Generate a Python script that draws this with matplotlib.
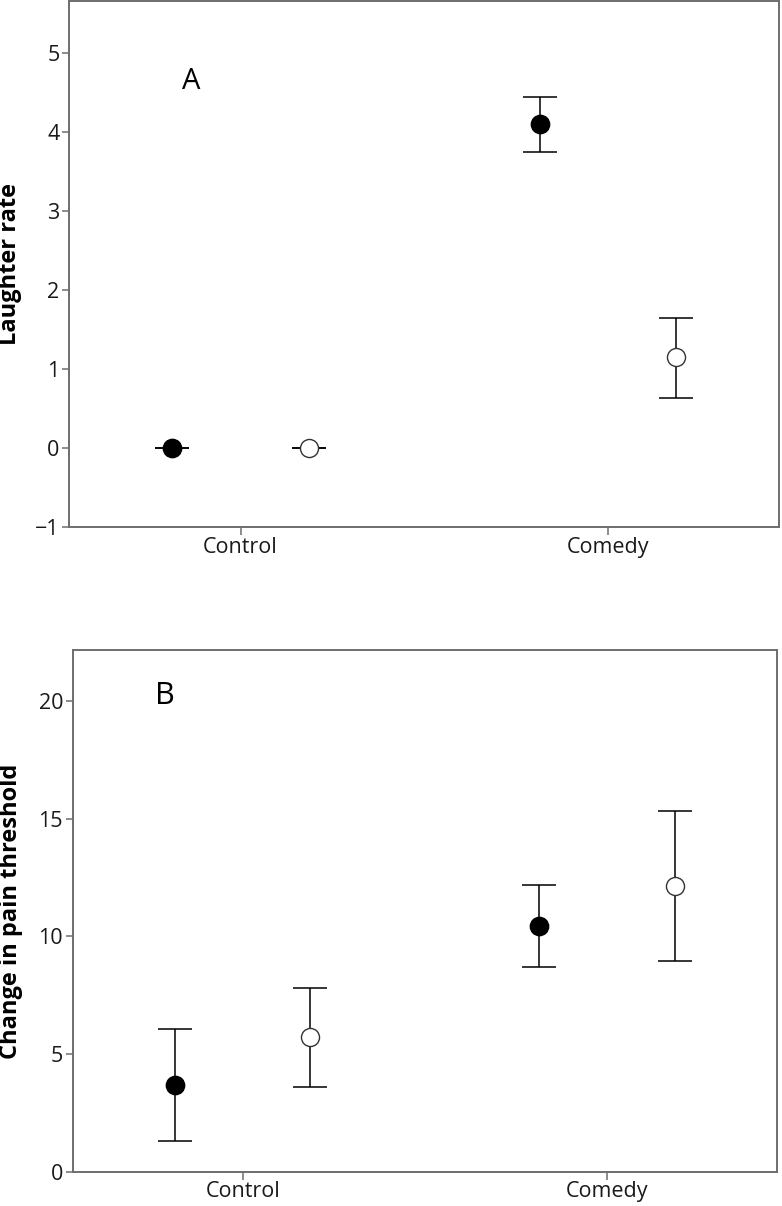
import matplotlib.pyplot as plt
import numpy as np

# two groups, two series per group (filled vs open markers)
groups = ["Control", "Comedy"]

# panel A: laughter rate
laugh_filled = [0.0, 4.10]
laugh_filled_lo = [0.0, 3.75]
laugh_filled_hi = [0.0, 4.44]
laugh_open = [0.0, 1.15]
laugh_open_lo = [0.0, 0.64]
laugh_open_hi = [0.0, 1.65]

# panel B: change in pain threshold
pain_filled = [3.68, 10.44]
pain_filled_lo = [1.30, 8.71]
pain_filled_hi = [6.05, 12.20]
pain_open = [5.74, 12.15]
pain_open_lo = [3.60, 8.97]
pain_open_hi = [7.82, 15.34]

plt.rcParams['font.family'] = ['Open Sans', 'DejaVu Sans']

SPINE = "#6e6e6e"
OFF = 0.186


def draw_series(ax, x, mean, lo, hi, filled):
    mean = np.asarray(mean)
    err = [mean - np.asarray(lo), np.asarray(hi) - mean]
    ax.errorbar(x, mean, yerr=err, fmt="none", ecolor="black",
                elinewidth=1.1, capsize=12.2, capthick=1.1, zorder=2)
    if filled:
        ax.plot(x, mean, "o", ms=13.2, mfc="black", mec="black", zorder=3)
    else:
        ax.plot(x, mean, "o", ms=13.0, mfc="white", mec="#333333", mew=1.0, zorder=3)


def style(ax, ylim, yticks, ylabel, lab_x):
    ax.set_xlim(-0.466, 1.465)
    ax.set_ylim(*ylim)
    ax.set_yticks(yticks)
    ax.set_xticks(range(len(groups)))
    ax.set_xticklabels(groups)
    for s in ax.spines.values():
        s.set_color(SPINE)
        s.set_linewidth(1.4)
    ax.tick_params(axis="y", direction="out", length=5, width=1.1, color=SPINE,
                   labelsize=15.5, pad=2, labelcolor="#1a1a1a")
    ax.tick_params(axis="x", direction="out", length=6, width=1.1, color=SPINE,
                   labelsize=15.5, pad=1, labelcolor="#1a1a1a")
    ax.set_ylabel(ylabel, fontsize=17, fontweight="bold")
    ax.yaxis.set_label_coords(lab_x, 0.5)


fig = plt.figure(figsize=(7.82, 12.06), dpi=100)
axA = fig.add_axes([0.0886, 0.5628, 0.9075, 0.4364])
axB = fig.add_axes([0.0930, 0.0284, 0.9003, 0.4326])

x = np.arange(len(groups))

draw_series(axA, x - OFF, laugh_filled, laugh_filled_lo, laugh_filled_hi, True)
draw_series(axA, x + OFF, laugh_open, laugh_open_lo, laugh_open_hi, False)
style(axA, (-1, 5.66), range(-1, 6), "Laughter rate", -0.066)
axA.text(-0.133, 4.64, "A", fontsize=21, ha="center", va="center")

draw_series(axB, x - OFF, pain_filled, pain_filled_lo, pain_filled_hi, True)
draw_series(axB, x + OFF, pain_open, pain_open_lo, pain_open_hi, False)
style(axB, (0, 22.17), range(0, 21, 5), "Change in pain threshold", -0.070)
axB.text(-0.213, 20.2, "B", fontsize=22, ha="center", va="center")

fig.savefig("out.png", dpi=100)
